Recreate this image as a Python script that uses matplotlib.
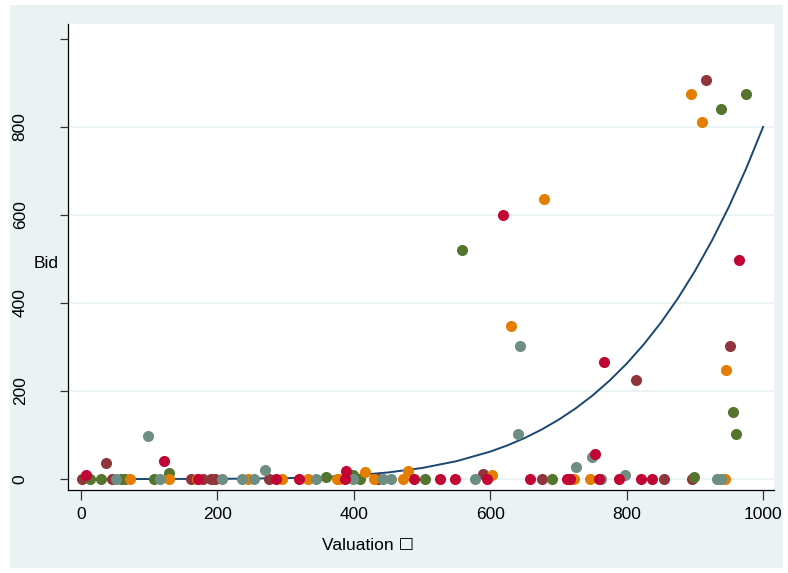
import numpy as np
import matplotlib
matplotlib.use('Agg')
import matplotlib.pyplot as plt
from matplotlib.patches import Rectangle

plt.rcParams['font.family'] = ['Liberation Sans', 'DejaVu Sans']

# scatter data, one group per colour (valuation, bid)
maroon_x = [2, 37, 45, 162, 179, 191, 196, 276, 436, 589, 676, 855, 896, 813, 951, 917]
maroon_y = [0, 36, 0, 0, 0, 0, 0, 0, 0, 11, 0, 0, 0, 226, 303, 907]

green_x = [13, 29, 59, 65, 107, 129, 359, 399, 409, 504, 690, 898, 956, 960, 559, 975, 939]
green_y = [0, 0, 0, 0, 0, 13, 5, 9, 0, 0, 0, 5, 152, 102, 520, 875, 841]

orange_x = [72, 129, 170, 245, 294, 333, 375, 379, 416, 430, 472, 479, 603, 723, 746, 944,
            630, 679, 945, 894, 910]
orange_y = [0, 0, 0, 0, 0, 0, 0, 0, 17, 0, 0, 18, 8, 0, 0, 0,
            348, 636, 247, 875, 811]

teal_x = [52, 99, 116, 207, 236, 254, 270, 345, 399, 443, 455, 578, 640, 644, 726, 749,
          762, 798, 932, 938]
teal_y = [0, 98, 0, 0, 0, 0, 20, 0, 0, 0, 0, 0, 102, 303, 28, 51,
          0, 9, 0, 0]

red_x = [8, 122, 172, 286, 319, 387, 389, 488, 526, 548, 595, 659, 712, 717, 753, 759,
         789, 821, 837, 619, 767, 965]
red_y = [9, 41, 0, 0, 0, 0, 18, 0, 0, 0, 0, 0, 0, 0, 56, 0,
         0, 0, 0, 600, 267, 497]

# curve
curve_x = [0, 100, 200, 300, 350, 400, 450, 500, 550, 600, 625, 650, 675, 700, 725, 750,
           775, 800, 825, 850, 875, 900, 925, 950, 975, 1000]
curve_y = [0, 0, 0.3, 1.9, 4.2, 8.2, 14.8, 25, 40.3, 62.2, 76.3, 92.8, 112.1, 134.5, 160.2, 189.8,
           223.7, 262.1, 305.8, 355, 410.3, 472.4, 541.7, 619, 704.9, 800]

xticks = [0, 200, 400, 600, 800, 1000]
yticks = [0, 200, 400, 600, 800]

W, H = 788, 573
fig = plt.figure(figsize=(W / 100, H / 100), dpi=100, facecolor='white')
fig.patches.append(Rectangle((10 / W, 5 / H), (W - 15) / W, (H - 10) / H,
                             transform=fig.transFigure, facecolor='#eaf2f3',
                             edgecolor='none', zorder=-10))

ax = fig.add_axes([68 / W, 1 - 490 / H, (774 - 68) / W, (490 - 24) / H])
ax.set_zorder(5)
ax.set_facecolor('white')

for yv in yticks:
    ax.axhline(yv, color='#eaf2f3', lw=1.3, zorder=1)

ax.plot(curve_x, curve_y, color='#1a476f', lw=1.4, zorder=2)

ms = 64
ax.scatter(maroon_x, maroon_y, s=ms, c='#90353b', linewidths=0, zorder=3)
ax.scatter(green_x, green_y, s=ms, c='#55752f', linewidths=0, zorder=3)
ax.scatter(orange_x, orange_y, s=ms, c='#e37e00', linewidths=0, zorder=3)
ax.scatter(teal_x, teal_y, s=ms, c='#6e8e84', linewidths=0, zorder=3)
ax.scatter(red_x, red_y, s=ms, c='#c10534', linewidths=0, zorder=3)

ax.set_xlim(-19, 1016)
ax.set_ylim(-25, 1034)

ax.spines['top'].set_visible(False)
ax.spines['right'].set_visible(False)
ax.spines['left'].set_color('black')
ax.spines['bottom'].set_color('black')
ax.spines['left'].set_linewidth(0.9)
ax.spines['bottom'].set_linewidth(0.9)

ax.set_xticks(xticks)
ax.set_xticklabels([str(v) for v in xticks])
ax.set_yticks(yticks + [1000])
ax.set_yticklabels([str(v) for v in yticks] + [''])
ax.tick_params(axis='x', direction='out', length=7, width=0.9, color='#333333',
               labelsize=12.5, pad=5)
ax.tick_params(axis='y', direction='out', length=6, width=0.9, color='#333333',
               labelsize=12.5, pad=23)
for lab in ax.get_yticklabels():
    lab.set_rotation(90)
    lab.set_va('center')

ax.set_ylabel('Bid', rotation=0, fontsize=12.5, ha='center', va='center')
ax.yaxis.set_label_coords(-0.031, 0.487)
ax.set_xlabel('Valuation \u2610', fontsize=12.5, ha='left', va='center')
ax.xaxis.set_label_coords(0.36, -0.12)

fig.savefig('out.png', dpi=100, facecolor=fig.get_facecolor())
